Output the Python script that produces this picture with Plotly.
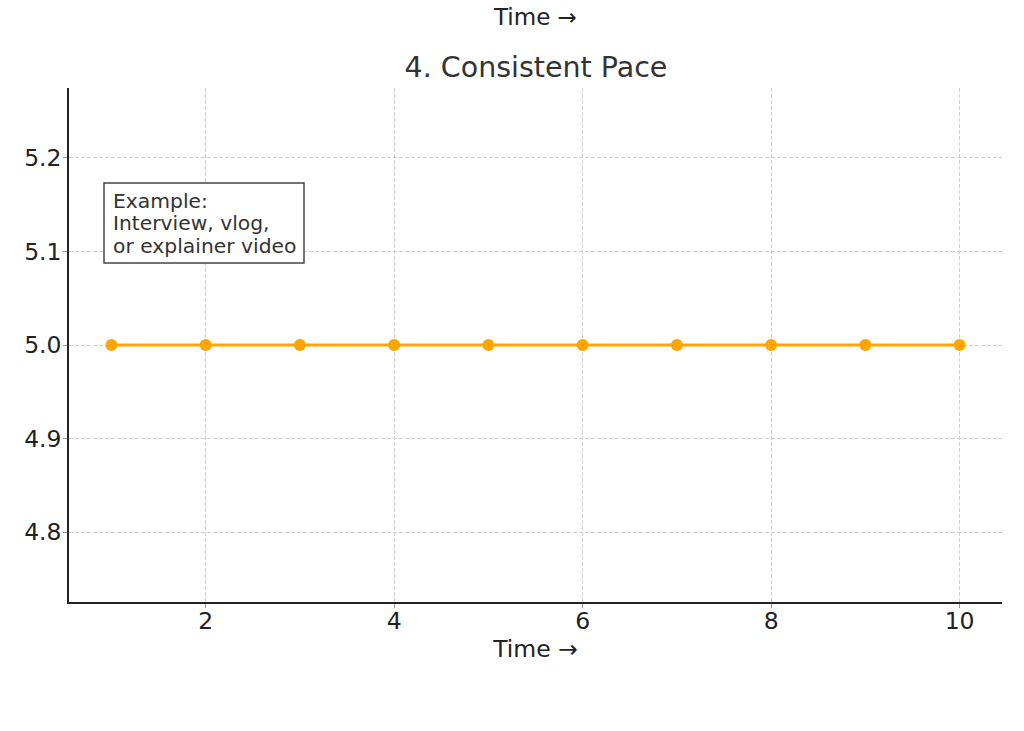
import plotly.graph_objects as go

time = [1, 2, 3, 4, 5, 6, 7, 8, 9, 10]
pace = [5, 5, 5, 5, 5, 5, 5, 5, 5, 5]
x_ticks = [2, 4, 6, 8, 10]
y_ticks = [4.8, 4.9, 5.0, 5.1, 5.2]
y_tick_text = ["4.8", "4.9", "5.0", "5.1", "5.2"]
note_lines = ["Example:", "Interview, vlog,", "or explainer video"]

FONT = "DejaVu Sans"
W, H = 1024, 731
L, T = 69, 88
R = W - 1002
B = H - 602
pw, ph = W - L - R, H - T - B

fig = go.Figure()
fig.add_trace(go.Scatter(
    x=time, y=pace, mode="lines+markers",
    line=dict(color="#FFA500", width=2.8),
    marker=dict(color="#FFA500", size=12),
    showlegend=False, cliponaxis=False,
))

def px_x(px):
    return (px - L) / pw

def px_y(py):
    return (H - B - py) / ph

# annotation box
fig.add_shape(type="rect", xref="paper", yref="paper",
              x0=px_x(104), x1=px_x(304), y0=px_y(263), y1=px_y(183),
              line=dict(color="#444444", width=1.5), fillcolor="white", layer="above")
for i, line in enumerate(note_lines):
    fig.add_annotation(xref="paper", yref="paper", x=px_x(111), y=px_y(200.5 + i * 22.5),
                       text=line, showarrow=False, xanchor="left", yanchor="middle",
                       font=dict(family=FONT, size=20.3, color="#333333"))

# stray top label from previous panel
fig.add_annotation(xref="paper", yref="paper", x=px_x(535), y=px_y(17),
                   text="Time →", showarrow=False, xanchor="center", yanchor="middle",
                   font=dict(family=FONT, size=23, color="#222222"))

fig.update_layout(
    width=W, height=H,
    margin=dict(l=L, r=R, t=T, b=B),
    plot_bgcolor="white", paper_bgcolor="white",
    font=dict(family=FONT, color="#222222"),
    title=dict(text="4. Consistent Pace", x=px_x(536), xref="paper", xanchor="center",
               y=1 - 67 / H, yanchor="middle",
               font=dict(family=FONT, size=28.5, color="#333333")),
    xaxis=dict(range=[0.55, 10.45], tickvals=x_ticks, showgrid=True,
               gridcolor="#d0d0d0", griddash="4px,2px", gridwidth=1,
               showline=True, linecolor="#222222", linewidth=1.5,
               ticks="outside", ticklen=4, tickcolor="#999999",
               ticklabelstandoff=-7,
               tickfont=dict(family=FONT, size=23.5, color="#222222"),
               title=dict(text="Time →", font=dict(family=FONT, size=23.5, color="#222222"), standoff=7),
               zeroline=False),
    yaxis=dict(range=[4.7255, 5.2745], tickvals=y_ticks, ticktext=y_tick_text, showgrid=True,
               gridcolor="#d0d0d0", griddash="4px,2px", gridwidth=1,
               showline=True, linecolor="#222222", linewidth=1.5,
               ticks="outside", ticklen=4, tickcolor="#999999",
               ticklabelstandoff=-3,
               tickfont=dict(family=FONT, size=23.5, color="#222222"),
               zeroline=False),
)

fig.write_html("out.html", config={"displayModeBar": False},
               post_script="document.body.style.margin='0';")
